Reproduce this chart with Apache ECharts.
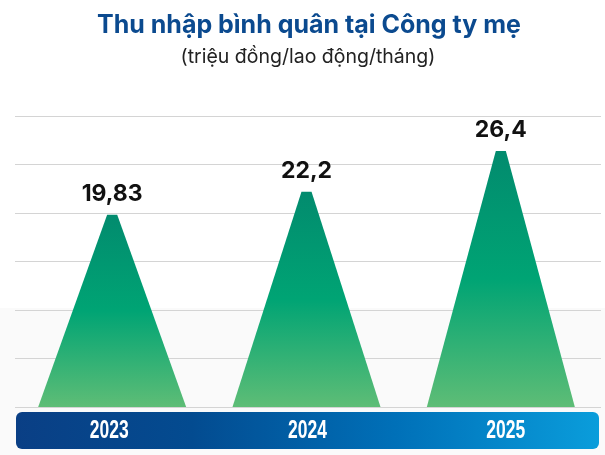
<!DOCTYPE html>
<html>
<head>
<meta charset="utf-8">
<script src="https://cdn.jsdelivr.net/npm/echarts@6/dist/echarts.min.js"></script>
<style>
  html, body { margin: 0; padding: 0; background: #ffffff; }
  #chart { width: 605px; height: 455px; }
</style>
</head>
<body>
<div id="chart"></div>
<script>
// Average monthly income at the parent company (million VND / employee / month)
const years = ['2023', '2024', '2025'];
const incomes = [19.83, 22.2, 26.4];
const titleText = 'Thu nhập bình quân tại Công ty mẹ';
const subtitleText = '(triệu đồng/lao động/tháng)';

const chart = echarts.init(document.getElementById('chart'), null, { renderer: 'canvas' });

const fmt = v => String(v).replace('.', ',');

const peakFill = {
  type: 'linear', x: 0, y: 0, x2: 0, y2: 1,
  colorStops: [
    { offset: 0, color: '#028b6e' },
    { offset: 0.5, color: '#00a474' },
    { offset: 1, color: '#5ebd76' }
  ]
};

const bandFill = new echarts.graphic.LinearGradient(0, 0, 1, 0, [
  { offset: 0, color: '#0a3f85' },
  { offset: 0.3, color: '#034b90' },
  { offset: 0.65, color: '#0070b8' },
  { offset: 1, color: '#0a9ddb' }
]);

const valueAxis = (gridIndex, showLines) => ({
  type: 'value', gridIndex, min: 0, max: 30, interval: 5,
  axisLabel: { show: false }, axisLine: { show: false }, axisTick: { show: false },
  splitLine: { show: showLines, lineStyle: { color: '#d4d4d4', width: 1 } }
});

const baseGraphics = [
  { type: 'rect', z: -10, silent: true,
    shape: { x: 0, y: 308, width: 605, height: 147 },
    style: { fill: '#fafafa' } },
  { type: 'text', x: 309, y: 25, z: 10,
    style: { text: titleText, textAlign: 'center', textVerticalAlign: 'middle',
             font: 'bold 25px Inter, "Noto Sans", sans-serif', fill: '#0b4a8f' } },
  { type: 'text', x: 308, y: 57, z: 10,
    style: { text: subtitleText, textAlign: 'center', textVerticalAlign: 'middle',
             font: '19.5px Inter, "Noto Sans", sans-serif', fill: '#222222' } },
  { type: 'rect', z: 0, silent: true,
    shape: { x: 16, y: 412, width: 583, height: 37, r: 6 },
    style: { fill: bandFill } }
];

chart.setOption({
  animation: false,
  backgroundColor: '#ffffff',
  graphic: baseGraphics,
  grid: [
    { left: 15, right: 4, top: 116, bottom: 48 },
    { left: 15, right: 7, top: 116, bottom: 48 },
    { left: 10, right: -7, top: 400, bottom: 24 }
  ],
  xAxis: [
    { type: 'category', gridIndex: 0, data: years, show: false },
    { type: 'category', gridIndex: 1, data: years,
      axisLine: { show: false }, axisTick: { show: false }, axisLabel: { show: false } },
    { type: 'category', gridIndex: 2, data: years, show: false }
  ],
  yAxis: [
    valueAxis(0, true),
    valueAxis(1, false),
    { type: 'value', gridIndex: 2, show: false }
  ],
  series: [
    {
      type: 'pictorialBar',
      xAxisIndex: 1, yAxisIndex: 1,
      data: incomes,
      symbol: 'path://M0,100 L46.6,0 L53.4,0 L100,100 Z',
      symbolSize: [148, '100%'],
      symbolPosition: 'start',
      itemStyle: { color: peakFill },
      label: {
        show: true, position: 'top', distance: 9,
        formatter: p => fmt(p.value),
        fontFamily: 'Inter, "Noto Sans", sans-serif',
        fontWeight: 'bold', fontSize: 23, color: '#111111'
      },
      z: 5
    }
  ]
});

// Year labels inside the band: condensed lettering placed at the category centres
const yearLabels = years.map(y => {
  const px = chart.convertToPixel({ xAxisIndex: 2 }, y);
  return {
    type: 'text', x: px, y: 431, z: 20, scaleX: 0.7, scaleY: 1, originX: 0, originY: 0,
    style: { text: y, textAlign: 'center', textVerticalAlign: 'middle',
             font: 'bold 25px "Liberation Sans", Arial, sans-serif', fill: '#ffffff' }
  };
});
chart.setOption({ graphic: baseGraphics.concat(yearLabels) });
</script>
</body>
</html>
